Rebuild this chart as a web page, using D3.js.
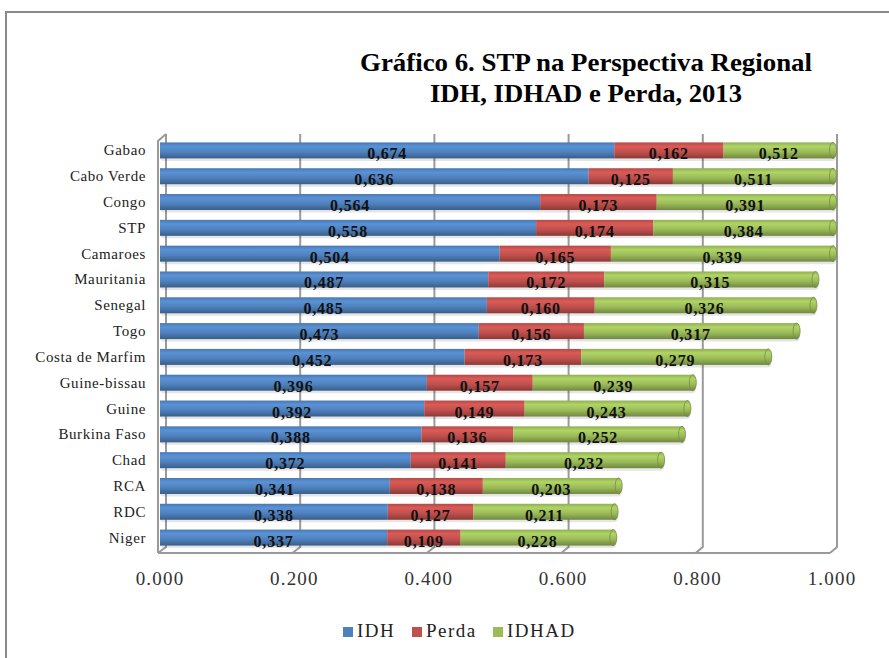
<!DOCTYPE html>
<html>
<head>
<meta charset="utf-8">
<script src="https://cdn.jsdelivr.net/npm/d3@7"></script>
<style>
  body { margin: 0; background: #fff; }
</style>
</head>
<body>
<div id="chart"></div>
<script>
const categories = ["Gabao", "Cabo Verde", "Congo", "STP", "Camaroes", "Mauritania", "Senegal", "Togo",
  "Costa de Marfim", "Guine-bissau", "Guine", "Burkina Faso", "Chad", "RCA", "RDC", "Niger"];
const idh = [0.674, 0.636, 0.564, 0.558, 0.504, 0.487, 0.485, 0.473, 0.452, 0.396, 0.392, 0.388, 0.372, 0.341, 0.338, 0.337];
const perda = [0.162, 0.125, 0.173, 0.174, 0.165, 0.172, 0.160, 0.156, 0.173, 0.157, 0.149, 0.136, 0.141, 0.138, 0.127, 0.109];
const idhad = [0.512, 0.511, 0.391, 0.384, 0.339, 0.315, 0.326, 0.317, 0.279, 0.239, 0.243, 0.252, 0.232, 0.203, 0.211, 0.228];
const seriesNames = ["IDH", "Perda", "IDHAD"];
const tickValues = [0, 0.2, 0.4, 0.6, 0.8, 1.0];

(function () {
  const width = 889;
  const height = 658;
  const colors = ["#4f81bd", "#c0504d", "#9bbb59"];
  const serif = "\"Liberation Serif\"";

  const svg = d3.select("#chart")
    .append("svg")
    .attr("width", width)
    .attr("height", height);

  // moldura do gráfico
  svg.append("rect")
    .attr("x", 6).attr("y", 12)
    .attr("width", 920).attr("height", 700)
    .attr("fill", "none")
    .attr("stroke", "#8a8a8a")
    .attr("stroke-width", 2);

  // título
  const title = svg.append("text")
    .attr("text-anchor", "middle")
    .style("font-family", serif)
    .style("font-weight", "bold")
    .style("font-size", "26px")
    .style("fill", "#000");
  title.append("tspan").attr("x", 586).attr("y", 71)
    .attr("textLength", 452).attr("lengthAdjust", "spacingAndGlyphs")
    .text("Gráfico 6. STP na Perspectiva Regional");
  title.append("tspan").attr("x", 586).attr("y", 102)
    .attr("textLength", 312).attr("lengthAdjust", "spacingAndGlyphs")
    .text("IDH, IDHAD e Perda, 2013");

  // escalas: frente (chão), fundo (parede) e barras
  const xFront = d3.scaleLinear().domain([0, 1]).range([158, 830]);
  const xBack = d3.scaleLinear().domain([0, 1]).range([166, 837]);
  const xBar = d3.scaleLinear().domain([0, 1]).range([160, 834]).clamp(true);
  const y = d3.scaleBand()
    .domain(categories)
    .range([137.5, 550.5])
    .paddingInner(0.38)
    .paddingOuter(0.19);

  const floorFront = 553;
  const floorBack = 547;
  const wallTop = 134;

  // grelha da parede e do chão
  const grid = svg.append("g")
    .attr("stroke", "#9a9a9a")
    .attr("stroke-width", 2)
    .attr("fill", "none");

  grid.selectAll("path.grid")
    .data(tickValues)
    .enter()
    .append("path")
    .attr("d", d => `M${xBack(d)},${wallTop} L${xBack(d)},${floorBack} L${xFront(d)},${floorFront}`);

  grid.append("path")
    .attr("d", `M${xFront(0)},${floorFront} L${xFront(1)},${floorFront}`);
  grid.append("path")
    .attr("d", `M${xFront(0)},${floorFront} L${xFront(0)},${wallTop + 7} L${xBack(0)},${wallTop}`);

  // gradientes cilíndricos
  const defs = svg.append("defs");
  colors.forEach((c, i) => {
    const base = d3.color(c);
    const g = defs.append("linearGradient")
      .attr("id", "grad" + i)
      .attr("x1", 0).attr("y1", 0).attr("x2", 0).attr("y2", 1);
    g.append("stop").attr("offset", "0%").attr("stop-color", base.darker(0.2));
    g.append("stop").attr("offset", "25%").attr("stop-color", base.brighter(0.35));
    g.append("stop").attr("offset", "60%").attr("stop-color", base);
    g.append("stop").attr("offset", "100%").attr("stop-color", base.darker(0.9));
  });

  // empilhar séries
  const rows = categories.map((name, i) => {
    const vals = [idh[i], perda[i], idhad[i]];
    let acc = 0;
    const segs = vals.map((v, k) => {
      const s = { name, k, v, x0: acc, x1: acc + v };
      acc += v;
      return s;
    });
    return { name, segs, total: acc };
  });

  const bh = y.bandwidth();

  const bar = svg.selectAll("g.bar")
    .data(rows)
    .enter()
    .append("g")
    .attr("class", "bar")
    .attr("transform", d => `translate(0,${y(d.name)})`);

  // sombra
  bar.append("rect")
    .attr("x", xBar(0))
    .attr("y", 2.5)
    .attr("width", d => xBar(d.total) - xBar(0) + 2)
    .attr("height", bh)
    .attr("rx", 4)
    .attr("fill", "#000")
    .attr("opacity", 0.1);

  bar.selectAll("rect.seg")
    .data(d => d.segs.filter(s => s.x0 < 1))
    .enter()
    .append("rect")
    .attr("class", "seg")
    .attr("x", s => xBar(s.x0))
    .attr("y", 0)
    .attr("width", s => xBar(s.x1) - xBar(s.x0))
    .attr("height", bh)
    .attr("fill", s => `url(#grad${s.k})`);

  // tampa do cilindro
  bar.append("ellipse")
    .attr("cx", d => xBar(d.total) - 1)
    .attr("cy", bh / 2)
    .attr("rx", 3.5)
    .attr("ry", bh / 2)
    .attr("fill", "url(#grad2)")
    .attr("stroke", d3.color(colors[2]).darker(0.8))
    .attr("stroke-width", 0.8);

  // rótulos de dados
  bar.selectAll("text.val")
    .data(d => d.segs.filter(s => s.x0 < 1))
    .enter()
    .append("text")
    .attr("class", "val")
    .attr("x", s => (xBar(s.x0) + xBar(Math.min(s.x1, 1))) / 2)
    .attr("y", bh + 1)
    .attr("text-anchor", "middle")
    .text(s => s.v.toFixed(3).replace(".", ","))
    .style("font-family", serif)
    .style("font-weight", "bold")
    .style("font-size", "16px")
    .style("letter-spacing", "0.8px")
    .style("fill", "#111");

  // categorias
  svg.selectAll("text.cat")
    .data(categories)
    .enter()
    .append("text")
    .attr("class", "cat")
    .attr("x", 146)
    .attr("y", d => y(d) + bh / 2 + 5)
    .attr("text-anchor", "end")
    .text(d => d)
    .style("font-family", serif)
    .style("font-size", "15px")
    .style("letter-spacing", "0.6px")
    .style("fill", "#222");

  // eixo x
  svg.selectAll("text.tick")
    .data(tickValues)
    .enter()
    .append("text")
    .attr("class", "tick")
    .attr("x", d => xFront(d) + 2)
    .attr("y", 585)
    .attr("text-anchor", "middle")
    .text(d3.format(".3f"))
    .style("font-family", serif)
    .style("font-size", "19px")
    .style("letter-spacing", "1.2px")
    .style("fill", "#333");

  // legenda
  const legendX = [343, 412, 493];
  const legend = svg.selectAll("g.legend")
    .data(seriesNames)
    .enter()
    .append("g")
    .attr("class", "legend")
    .attr("transform", (d, i) => `translate(${legendX[i]},627)`);

  legend.append("rect")
    .attr("width", 10).attr("height", 10)
    .attr("fill", (d, i) => colors[i]);

  legend.append("text")
    .attr("x", 14)
    .attr("y", 10)
    .text(d => d)
    .style("font-family", serif)
    .style("font-size", "19px")
    .style("letter-spacing", "1.5px")
    .style("fill", "#222");
})();
</script>
</body>
</html>
